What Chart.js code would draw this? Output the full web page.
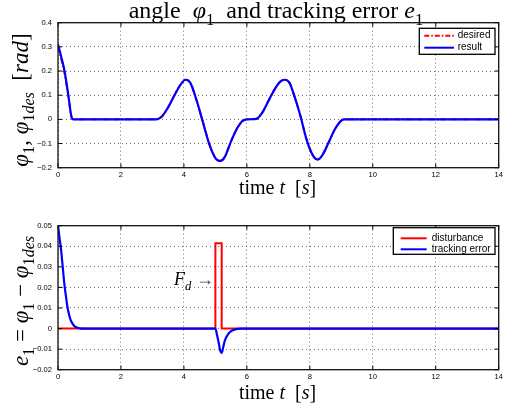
<!DOCTYPE html>
<html><head><meta charset="utf-8">
<script src="https://cdn.jsdelivr.net/npm/chart.js@4/dist/chart.umd.min.js"></script>
<style>
html,body{margin:0;padding:0;background:#fff;overflow:hidden;}
#wrap{position:relative;width:509px;height:409px;background:#fff;}
canvas{position:absolute;left:0;}
</style></head><body>
<div id="wrap">
<canvas id="c1" width="509" height="205" style="top:0"></canvas>
<canvas id="c2" width="509" height="204" style="top:205px"></canvas>
</div>
<script>
// ---------- data ----------
const xTicks = [0, 2, 4, 6, 8, 10, 12, 14];
const yTicksTop = [-0.2, -0.1, 0, 0.1, 0.2, 0.3, 0.4];
const yTicksBottom = [-0.02, -0.01, 0, 0.01, 0.02, 0.03, 0.04, 0.05];

const phiTime = [0,0.1,0.2,0.3,0.35,0.4,0.45,0.5,3.1,3.3,3.5,3.7,3.9,4.05,4.2,4.4,4.6,4.8,5.0,5.15,5.3,5.5,5.7,5.85,6.0,6.3,6.5,6.7,6.9,7.05,7.2,7.35,7.5,7.7,7.9,8.1,8.25,8.4,8.6,8.8,9.0,9.1,14];
const phiResult = [0.311,0.26,0.205,0.125,0.08,0.03,0.003,0,0,0.012,0.05,0.1,0.145,0.164,0.152,0.08,-0.01,-0.1,-0.16,-0.172,-0.155,-0.09,-0.035,-0.008,0,0.002,0.03,0.08,0.128,0.155,0.164,0.152,0.1,0.015,-0.085,-0.15,-0.166,-0.148,-0.095,-0.04,-0.005,0,0];
const phiDesired = [0.3,0.252,0.197,0.12,0.076,0.028,0.002,0,0,0.012,0.05,0.1,0.145,0.164,0.152,0.08,-0.01,-0.1,-0.16,-0.172,-0.155,-0.09,-0.035,-0.008,0,0.002,0.03,0.08,0.128,0.155,0.164,0.152,0.1,0.015,-0.085,-0.15,-0.166,-0.148,-0.095,-0.04,-0.005,0,0];

const errTime = [0,0.05,0.1,0.15,0.2,0.25,0.3,0.35,0.4,0.5,0.6,0.7,0.8,5.0,5.05,5.1,5.15,5.2,5.25,5.3,5.4,5.5,5.65,5.8,14];
const errTracking = [0.05,0.044,0.038,0.03,0.022,0.016,0.0105,0.0068,0.0042,0.0015,0.0005,0.0001,0,0,-0.003,-0.0065,-0.0105,-0.0118,-0.009,-0.0058,-0.0028,-0.0012,-0.0003,0,0];

const distTime = [0, 5.0, 5.0, 5.2, 5.2, 14];
const distValue = [0, 0, 0.0415, 0.0415, 0, 0];

// ---------- helpers ----------
const serif = '"Liberation Serif", "DejaVu Serif", serif';
const sans = '"Liberation Sans", Arial, sans-serif';
const pts = (xs, ys) => xs.map((x, i) => ({x, y: ys[i]}));
const fmt = v => String(v).replace('-', '\u2212');

function drawRich(ctx, segs, size, x, y, rot) {
  ctx.save();
  ctx.translate(x, y);
  if (rot) ctx.rotate(rot);
  let total = 0;
  const items = segs.map(s => {
    const fs = s.sub ? size * 0.7 : size;
    const font = (s.i ? 'italic ' : '') + fs + 'px ' + serif;
    ctx.font = font;
    const w = ctx.measureText(s.t).width;
    total += w;
    return {s, font, w, dy: s.sub ? size * 0.28 : 0};
  });
  let cx = -total / 2;
  ctx.textBaseline = 'alphabetic';
  ctx.textAlign = 'left';
  for (const it of items) {
    ctx.font = it.font;
    ctx.fillStyle = it.s.c || '#000';
    ctx.fillText(it.s.t, cx, it.dy);
    cx += it.w;
  }
  ctx.restore();
}

const decor = {
  id: 'decor',
  afterDraw(chart, args, o) {
    const ctx = chart.ctx;
    const a = chart.chartArea;
    const xs = chart.scales.x, ys = chart.scales.y;
    ctx.save();
    ctx.strokeStyle = '#000';
    ctx.lineWidth = 1;
    ctx.beginPath();
    xs.ticks.forEach(t => {
      const p = xs.getPixelForValue(t.value);
      ctx.moveTo(p, a.bottom); ctx.lineTo(p, a.bottom - 4);
      ctx.moveTo(p, a.top); ctx.lineTo(p, a.top + 4);
    });
    ys.ticks.forEach(t => {
      const p = ys.getPixelForValue(t.value);
      ctx.moveTo(a.left, p); ctx.lineTo(a.left + 4, p);
      ctx.moveTo(a.right, p); ctx.lineTo(a.right - 4, p);
    });
    ctx.stroke();
    ctx.lineWidth = 1.3;
    ctx.strokeStyle = '#111';
    ctx.strokeRect(a.left, a.top, a.right - a.left, a.bottom - a.top);
    const L = o.legend;
    ctx.fillStyle = '#fff';
    ctx.fillRect(L.x0, L.y0, L.x1 - L.x0, L.y1 - L.y0);
    ctx.lineWidth = 1.3;
    ctx.strokeStyle = '#000';
    ctx.strokeRect(L.x0, L.y0, L.x1 - L.x0, L.y1 - L.y0);
    L.items.forEach(it => {
      ctx.beginPath();
      ctx.strokeStyle = it.color;
      ctx.lineWidth = 2;
      ctx.setLineDash(it.dash || []);
      ctx.moveTo(L.lx0, it.y); ctx.lineTo(L.lx1, it.y);
      ctx.stroke();
      ctx.setLineDash([]);
      ctx.fillStyle = '#000';
      ctx.font = '10px ' + sans;
      ctx.textBaseline = 'middle';
      ctx.textAlign = 'left';
      ctx.fillText(it.label, L.tx, it.y);
    });
    o.texts.forEach(T => drawRich(ctx, T.segs, T.size, T.x, T.y, T.rot || 0));
    ctx.restore();
  }
};

function baseScales(yMin, yMax, yTicks, xHeight) {
  const gridCommon = {color: 'rgba(0,0,0,0.55)', lineWidth: 1, drawTicks: false};
  return {
    x: {
      type: 'linear', min: 0, max: 14,
      afterBuildTicks: s => { s.ticks = xTicks.map(v => ({value: v})); },
      afterFit: s => { s.height = xHeight; },
      ticks: {font: {family: sans, size: 7.6}, color: '#000', padding: 3, maxRotation: 0, autoSkip: false, callback: v => fmt(v)},
      grid: gridCommon,
      border: {display: false, dash: [1, 3]}
    },
    y: {
      type: 'linear', min: yMin, max: yMax,
      afterBuildTicks: s => { s.ticks = yTicks.map(v => ({value: v})); },
      afterFit: s => { s.width = 58; },
      ticks: {font: {family: sans, size: 7.6}, color: '#000', padding: 6, autoSkip: false, callback: v => fmt(v)},
      grid: gridCommon,
      border: {display: false, dash: [1, 3]}
    }
  };
}

const common = {
  responsive: false, animation: false, devicePixelRatio: 1,
  plugins: {legend: {display: false}, tooltip: {enabled: false}, title: {display: false}},
  elements: {point: {radius: 0}, line: {borderWidth: 2}}
};

// ---------- top chart ----------
new Chart(document.getElementById('c1'), {
  type: 'line',
  data: {
    datasets: [
      {label: 'result', data: pts(phiTime, phiResult), borderColor: '#0000ff', borderWidth: 2.2, cubicInterpolationMode: 'monotone', order: 0},
      {label: 'desired', data: pts(phiTime, phiDesired), borderColor: '#ff0000', borderWidth: 2, borderDash: [6, 2, 1.5, 2], cubicInterpolationMode: 'monotone', order: 1}
    ]
  },
  options: Object.assign({}, common, {
    layout: {padding: {left: 0, right: 10.3, top: 22.7, bottom: 0}},
    scales: baseScales(-0.2, 0.4, yTicksTop, 37.3),
    plugins: Object.assign({}, common.plugins, {
      decor: {
        legend: {x0: 419.3, y0: 28.3, x1: 495, y1: 54.3, lx0: 424.3, lx1: 454, tx: 457.7,
          items: [{label: 'desired', color: '#ff0000', dash: [5, 2, 1.5, 2], y: 35.7},
                  {label: 'result', color: '#0000ff', y: 47.7}]},
        texts: [
          {size: 24, x: 276, y: 18, segs: [{t: 'angle  '}, {t: 'φ', i: true}, {t: '1', sub: true}, {t: '  and tracking error '}, {t: 'e', i: true}, {t: '1', sub: true}]},
          {size: 20, x: 277.5, y: 194, segs: [{t: 'time '}, {t: 't', i: true}, {t: '  ['}, {t: 's', i: true}, {t: ']'}]},
          {size: 23, x: 28, y: 100, rot: -Math.PI / 2, segs: [{t: 'φ', i: true}, {t: '1', sub: true}, {t: ', '}, {t: 'φ', i: true}, {t: '1', sub: true}, {t: 'des', sub: true, i: true}, {t: '  ['}, {t: 'rad', i: true}, {t: ']'}]}
        ]
      }
    })
  }),
  plugins: [decor]
});

// ---------- bottom chart ----------
new Chart(document.getElementById('c2'), {
  type: 'line',
  data: {
    datasets: [
      {label: 'tracking error', data: pts(errTime, errTracking), borderColor: '#0000ff', borderWidth: 2.2, cubicInterpolationMode: 'monotone', order: 0},
      {label: 'disturbance', data: pts(distTime, distValue), borderColor: '#ff0000', borderWidth: 2, tension: 0, order: 1}
    ]
  },
  options: Object.assign({}, common, {
    layout: {padding: {left: 0, right: 10.3, top: 20.7, bottom: 0}},
    scales: baseScales(-0.02, 0.05, yTicksBottom, 39.3),
    plugins: Object.assign({}, common.plugins, {
      decor: {
        legend: {x0: 393.3, y0: 22.7, x1: 495, y1: 49.3, lx0: 400.7, lx1: 426.7, tx: 431.7,
          items: [{label: 'disturbance', color: '#ff0000', y: 33.3},
                  {label: 'tracking error', color: '#0000ff', y: 44.3}]},
        texts: [
          {size: 20, x: 277.5, y: 194.3, segs: [{t: 'time '}, {t: 't', i: true}, {t: '  ['}, {t: 's', i: true}, {t: ']'}]},
          {size: 23, x: 28, y: 96, rot: -Math.PI / 2, segs: [{t: 'e', i: true}, {t: '1', sub: true}, {t: ' = '}, {t: 'φ', i: true}, {t: '1', sub: true}, {t: ' \u2212 '}, {t: 'φ', i: true}, {t: '1', sub: true}, {t: 'des', sub: true, i: true}]},
          {size: 18, x: 194, y: 80.3, segs: [{t: 'F', i: true}, {t: 'd', sub: true, i: true}, {t: ' \u2192', c: '#444'}]}
        ]
      }
    })
  }),
  plugins: [decor]
});
</script>
</body></html>
